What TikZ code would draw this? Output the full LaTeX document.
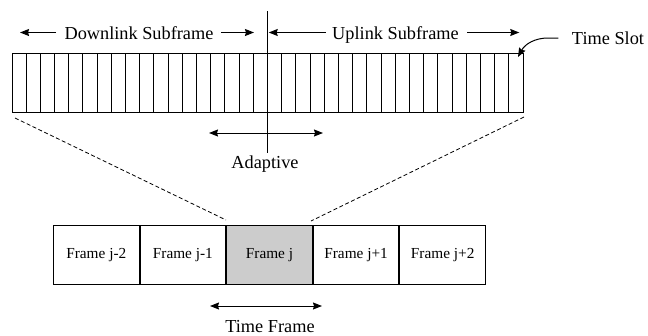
\documentclass[tikz,border=0pt]{standalone}
\usepackage{fontspec}
\setmainfont{Liberation Serif}
\usetikzlibrary{arrows.meta,calc}
\begin{document}
\begin{tikzpicture}[x=1pt,y=-1pt,
  line width=1pt,
  tip/.style={-{Stealth[length=9pt,width=7pt,inset=1pt]}},
  dtip/.style={{Stealth[length=9pt,width=7pt,inset=1pt]}-{Stealth[length=9pt,width=7pt,inset=1pt]}},
  lbl/.style={font=\fontsize{18.3}{20}\selectfont, inner sep=0pt, anchor=base},
  frm/.style={draw, minimum width=85.6pt, minimum height=59pt, inner sep=0pt,
              font=\fontsize{15.3}{17}\selectfont, anchor=north west},
  zoomline/.style={dash pattern=on 4pt off 2.5pt, line width=0.8pt},
]
\useasboundingbox (0,0) rectangle (648,335);

% slot bar
\node[draw, minimum width=511pt, minimum height=59pt, inner sep=0pt, anchor=north west] (bar) at (12,53) {};
\foreach \i in {1,...,35}
  \draw ($(bar.north west)+(\i*14.194,0)$) -- ($(bar.south west)+(\i*14.194,0)$);

% middle divider
\coordinate (mtop) at (267,11);
\coordinate (mbot) at (267,153);
\draw (mtop) -- (mbot);

% top labels
\node[lbl] (dl) at (139,39) {Downlink Subframe};
\draw[tip] ($(dl.base west)+(-8,-6.5)$) -- ++(-36,0);
\draw[tip] ($(dl.base east)+(7,-6.5)$) -- ++(33,0);

\node[lbl] (ul) at (395.5,39) {Uplink Subframe};
\draw[tip] ($(ul.base west)+(-6,-6.5)$) -- ++(-57,0);
\draw[tip] ($(ul.base east)+(8,-6.5)$) -- ++(52,0);

% time slot
\node[lbl] (ts) at (608,44) {Time Slot};
\coordinate (tstip) at (518,57);
\draw[tip] ($(ts.base west)+(-13,-6)$) -- (548,38) .. controls (535,38) and (525,44) .. (tstip);

% adaptive
\coordinate (al) at (209,133);
\coordinate (ar) at (323,133);
\draw[dtip] (al) -- (ar);
\node[lbl] (ad) at (265,168) {Adaptive};

% frames
\node[frm] (f1) at (53,225) {Frame j-2};
\node[frm] (f2) at (f1.north east) {Frame j-1};
\node[frm, fill=black!20] (f3) at (f2.north east) {Frame j};
\node[frm] (f4) at (f3.north east) {Frame j+1};
\node[frm] (f5) at (f4.north east) {Frame j+2};

% zoom lines
\coordinate (zl1) at (15,118);
\coordinate (zl2) at (226,220);
\coordinate (zr1) at (524,117);
\coordinate (zr2) at (311,221);
\draw[zoomline] (zl1) -- (zl2);
\draw[zoomline] (zr1) -- (zr2);

% time frame
\coordinate (tl) at (210,306);
\coordinate (tr) at (322,306);
\draw[dtip] (tl) -- (tr);
\node[lbl] (tf) at (270,332) {Time Frame};
\end{tikzpicture}
\end{document}
